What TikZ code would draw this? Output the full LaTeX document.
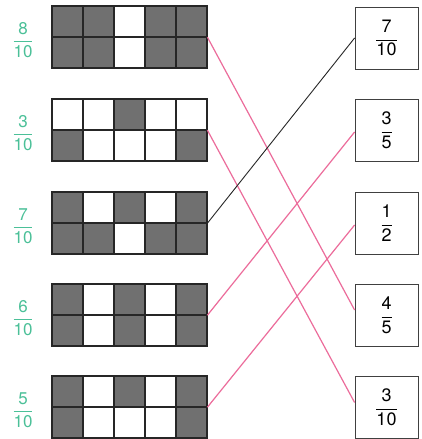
\documentclass[tikz,border=0pt]{standalone}
\usepackage{fontspec}
\setsansfont{TeX Gyre Heros}
\usetikzlibrary{calc}
\definecolor{hand}{RGB}{75,192,152}
\definecolor{pinkline}{RGB}{236,108,155}
\definecolor{shadecol}{RGB}{112,112,112}
\newcommand\fracgrid[3]{%
  \node[gridbox] (#1) at (52,#2) {};
  \foreach \c/\r in {#3} \fill[shadecol] (52+31*\c,#2+31*\r) rectangle ++(31,31);
  \foreach \c in {0,...,5} \draw[gridline] (52+31*\c,#2) -- ++(0,62);
  \foreach \r in {0,1,2} \draw[gridline] (52,#2+31*\r) -- ++(155,0);
}
\begin{document}
\begin{tikzpicture}[x=1pt,y=-1pt,
  gridbox/.style={draw=none,minimum width=155pt,minimum height=62pt,inner sep=0pt,anchor=north west},
  gridline/.style={line width=1.1pt,draw=black!85,line cap=rect},
  fracbox/.style={draw=black!75,line width=0.8pt,minimum width=63pt,minimum height=62pt,inner sep=0pt,
    font=\fontsize{18}{21}\selectfont},
  handlabel/.style={text=hand,font=\fontsize{17}{20}\selectfont\sffamily},
  pinkconn/.style={draw=pinkline,line width=1.2pt},
  blackconn/.style={draw=black!85,line width=0.9pt}]
\useasboundingbox (0,0) rectangle (421,439);
\fill[white] (0,0) rectangle (421,439);

\fracgrid{g1}{6}{0/0,1/0,3/0,4/0,0/1,1/1,3/1,4/1}
\fracgrid{g2}{99}{2/0,0/1,4/1}
\fracgrid{g3}{192}{0/0,2/0,4/0,0/1,1/1,3/1,4/1}
\fracgrid{g4}{284}{0/0,2/0,4/0,0/1,2/1,4/1}
\fracgrid{g5}{376}{0/0,2/0,4/0,0/1,4/1}

\node[handlabel] (l1) at (23,40) {$\displaystyle\frac{\textsf{8}}{\textsf{10}}$};
\node[handlabel] (l2) at (23,133) {$\displaystyle\frac{\textsf{3}}{\textsf{10}}$};
\node[handlabel] (l3) at (23,226) {$\displaystyle\frac{\textsf{7}}{\textsf{10}}$};
\node[handlabel] (l4) at (23,318) {$\displaystyle\frac{\textsf{6}}{\textsf{10}}$};
\node[handlabel] (l5) at (23,410) {$\displaystyle\frac{\textsf{5}}{\textsf{10}}$};

\node[fracbox] (b1) at (386.5,38) {$\displaystyle\frac{\textsf{7}}{\textsf{10}}$};
\node[fracbox] (b2) at (386.5,130) {$\displaystyle\frac{\textsf{3}}{\textsf{5}}$};
\node[fracbox] (b3) at (386.5,223) {$\displaystyle\frac{\textsf{1}}{\textsf{2}}$};
\node[fracbox] (b4) at (386.5,315) {$\displaystyle\frac{\textsf{4}}{\textsf{5}}$};
\node[fracbox] (b5) at (386.5,407.5) {$\displaystyle\frac{\textsf{3}}{\textsf{10}}$};

\draw[pinkconn] (g1.east) -- ([yshift=5pt]b4.west);
\draw[pinkconn] (g2.east) -- ([yshift=5pt]b5.west);
\draw[blackconn] (g3.east) -- (b1.west);
\draw[pinkconn] (g4.east) -- ([yshift=-2pt]b2.west);
\draw[pinkconn] (g5.east) -- ([yshift=-2pt]b3.west);
\end{tikzpicture}
\end{document}
